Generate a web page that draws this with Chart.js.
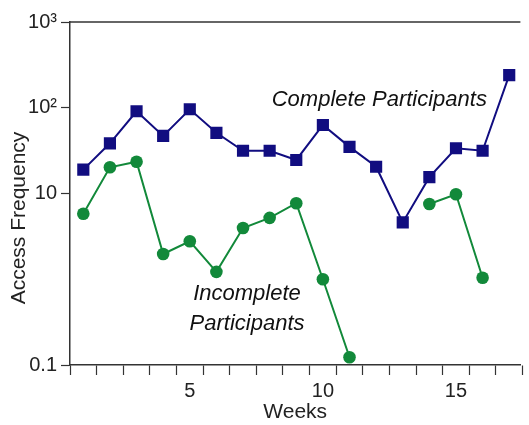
<!DOCTYPE html>
<html>
<head>
<meta charset="utf-8">
<script src="https://cdn.jsdelivr.net/npm/chart.js@4/dist/chart.umd.min.js"></script>
<style>
  html, body { margin: 0; padding: 0; background: #ffffff; }
  #wrap { width: 529px; height: 425px; position: relative; }
</style>
</head>
<body>
<div id="wrap"><canvas id="c" width="529" height="425"></canvas></div>
<script>
// ---- Data ----
const weeks = [1, 2, 3, 4, 5, 6, 7, 8, 9, 10, 11, 12, 13, 14, 15, 16, 17];
const completeParticipants = [19, 38.5, 91, 47, 96, 51, 31.5, 31.5, 24.6, 63, 35, 20.5, 4.6, 15.5, 33.7, 31.5, 240];
const incompleteParticipants = [5.8, 20.2, 23.5, 1.97, 2.77, 1.22, 3.96, 5.2, 7.7, 1.0, 0.123, null, null, 7.55, 9.8, 1.04, null];
const yTickValues = [0.1, 10, 100, 1000];
const yTickLabels = ['0.1', '10', '10²', '10³'];
const xLabelValues = [5, 10, 15];
const xTickMarks = [0.5, 1.5, 2.5, 3.5, 4.5, 5.5, 6.5, 7.5, 8.5, 9.5, 10.5, 11.5, 12.5, 13.5, 14.5, 15.5, 16.5, 17.5];
const seriesNames = ['Complete Participants', 'Incomplete Participants'];

const FONT = "'Liberation Sans', Arial, Helvetica, sans-serif";
const NAVY = '#110d80';
const GREEN = '#12893a';
const AXIS = '#333333';

const toXY = arr => weeks.map((w, i) => ({ x: w, y: arr[i] }));

// Top frame line + y axis title + series annotations
const decor = {
  id: 'decor',
  afterDraw(chart) {
    const { ctx, chartArea, scales } = chart;
    ctx.save();
    ctx.strokeStyle = AXIS;
    ctx.lineWidth = 1.5;
    ctx.beginPath();
    ctx.moveTo(chartArea.left, chartArea.top);
    ctx.lineTo(chartArea.right, chartArea.top);
    ctx.stroke();

    // y title
    ctx.fillStyle = '#222';
    ctx.font = '21px ' + FONT;
    ctx.textAlign = 'center';
    ctx.textBaseline = 'middle';
    ctx.translate(19, 218);
    ctx.rotate(-Math.PI / 2);
    ctx.fillText('Access Frequency', 0, 0);
    ctx.restore();

    // annotations
    ctx.save();
    ctx.fillStyle = '#111';
    ctx.font = 'italic 22px ' + FONT;
    ctx.textAlign = 'center';
    ctx.textBaseline = 'middle';
    const sx = scales.x, sy = scales.y;
    ctx.fillText(seriesNames[0], sx.getPixelForValue(12.12), sy.getPixelForValue(123));
    const parts = seriesNames[1].split(' ');
    ctx.fillText(parts[0], sx.getPixelForValue(7.15), sy.getPixelForValue(0.68));
    ctx.fillText(parts[1], sx.getPixelForValue(7.15), sy.getPixelForValue(0.30));
    ctx.restore();
  }
};

new Chart(document.getElementById('c'), {
  type: 'line',
  data: {
    datasets: [
      {
        label: seriesNames[0],
        data: toXY(completeParticipants),
        borderColor: NAVY,
        backgroundColor: NAVY,
        borderWidth: 2,
        pointStyle: 'rect',
        pointRadius: 8.6,
        pointBorderWidth: 0,
        tension: 0,
        spanGaps: false
      },
      {
        label: seriesNames[1],
        data: toXY(incompleteParticipants),
        borderColor: GREEN,
        backgroundColor: GREEN,
        borderWidth: 2,
        pointStyle: 'circle',
        pointRadius: 6.3,
        pointBorderWidth: 0,
        tension: 0,
        spanGaps: false
      }
    ]
  },
  options: {
    responsive: false,
    animation: false,
    devicePixelRatio: 1,
    layout: { padding: { top: 22, right: 0, left: 0, bottom: 0 } },
    plugins: {
      legend: { display: false },
      tooltip: { enabled: false }
    },
    scales: {
      x: {
        type: 'linear',
        min: 0.5,
        max: 17.42,
        afterBuildTicks(scale) {
          const vals = xTickMarks.concat(xLabelValues).sort((a, b) => a - b);
          scale.ticks = vals.map(v => ({ value: v }));
        },
        afterFit(scale) { scale.height = 60; },
        ticks: {
          autoSkip: false,
          maxRotation: 0,
          padding: 4,
          color: '#222',
          font: { family: FONT, size: 20 },
          callback: v => (xLabelValues.includes(v) ? String(v) : '')
        },
        grid: {
          drawOnChartArea: false,
          drawTicks: true,
          tickLength: 10,
          tickWidth: 1.2,
          tickColor: ctx => (ctx.tick && Number.isInteger(ctx.tick.value) ? 'rgba(0,0,0,0)' : AXIS)
        },
        border: { display: true, color: AXIS, width: 1.5 },
        title: {
          display: true,
          text: 'Weeks',
          color: '#222',
          font: { family: FONT, size: 21 },
          padding: { top: 3, bottom: 0 }
        }
      },
      y: {
        type: 'logarithmic',
        min: 0.1,
        max: 1000,
        afterBuildTicks(scale) {
          scale.ticks = yTickValues.map(v => ({ value: v }));
        },
        afterFit(scale) { scale.width = 70; },
        ticks: {
          autoSkip: false,
          padding: 4,
          color: '#222',
          font: { family: FONT, size: 20 },
          callback: (v) => {
            const i = yTickValues.indexOf(v);
            return i >= 0 ? yTickLabels[i] : '';
          }
        },
        grid: {
          drawOnChartArea: false,
          drawTicks: true,
          tickLength: 9,
          tickWidth: 1.2,
          tickColor: AXIS
        },
        border: { display: true, color: AXIS, width: 1.5 }
      }
    }
  },
  plugins: [decor]
});
</script>
</body>
</html>
